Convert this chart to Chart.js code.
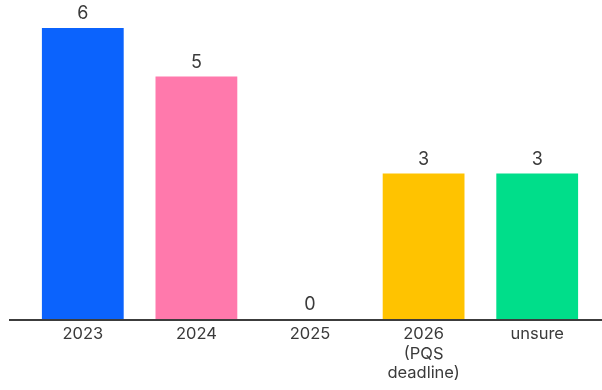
<!DOCTYPE html>
<html>
<head>
<meta charset="utf-8">
<script src="https://cdn.jsdelivr.net/npm/chart.js@4/dist/chart.umd.min.js"></script>
<style>
html,body{margin:0;padding:0;background:#fff;}
#wrap{width:602px;height:390px;position:relative;}
</style>
</head>
<body>
<div id="wrap"><canvas id="c" width="602" height="390"></canvas></div>
<script>
const categories = [["2023"], ["2024"], ["2025"], ["2026", "(PQS", "deadline)"], ["unsure"]];
const values = [6, 5, 0, 3, 3];
const barColors = ["#0b63fd", "#ff79ac", "#ffffff", "#ffc300", "#00de8a"];

const FONT = "Inter, 'Noto Sans', sans-serif";

const valueLabels = {
  id: 'valueLabels',
  afterDatasetsDraw(chart) {
    const ctx = chart.ctx;
    const meta = chart.getDatasetMeta(0);
    ctx.save();
    ctx.font = "18px " + FONT;
    ctx.fillStyle = "#3a3a3a";
    ctx.textAlign = "center";
    ctx.textBaseline = "middle";
    meta.data.forEach((bar, i) => {
      ctx.fillText(String(values[i]), bar.x, bar.y - 14);
    });
    ctx.restore();
  }
};

const baseLine = {
  id: 'baseLine',
  afterDatasetsDraw(chart) {
    const ctx = chart.ctx;
    const y = chart.scales.y.getPixelForValue(0);
    ctx.save();
    ctx.strokeStyle = "#3c3c3c";
    ctx.lineWidth = 2;
    ctx.beginPath();
    ctx.moveTo(9, y + 1);
    ctx.lineTo(602, y + 1);
    ctx.stroke();
    ctx.restore();
  }
};

new Chart(document.getElementById('c'), {
  type: 'bar',
  data: {
    labels: categories,
    datasets: [{
      data: values,
      backgroundColor: barColors,
      borderWidth: 0,
      barPercentage: 0.72,
      categoryPercentage: 1.0
    }]
  },
  options: {
    responsive: false,
    animation: false,
    layout: { padding: { left: 26, right: 8, top: 28, bottom: 0 } },
    plugins: { legend: { display: false }, tooltip: { enabled: false } },
    scales: {
      x: {
        grid: { display: false, drawTicks: false },
        border: { display: false },
        ticks: {
          color: "#3a3a3a",
          font: { family: FONT, size: 16.5, lineHeight: 1.2 },
          padding: 5,
          maxRotation: 0,
          autoSkip: false
        },
        afterFit(scale) { scale.height = 71; }
      },
      y: {
        display: false,
        min: 0,
        max: 6
      }
    }
  },
  plugins: [valueLabels, baseLine]
});
</script>
</body>
</html>
